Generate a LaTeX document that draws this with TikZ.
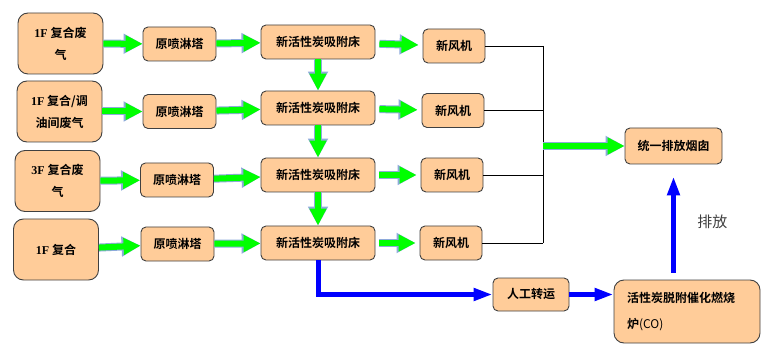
\documentclass[tikz,border=0pt]{standalone}
\usepackage{fontspec}
\newfontfamily\cjk[BoldFont={Noto Sans CJK SC Bold}]{Noto Sans CJK SC}
\newfontfamily\latn{Liberation Serif}
\usetikzlibrary{arrows.meta}
\definecolor{bpeach}{HTML}{FFCC99}
\definecolor{bedge}{HTML}{404040}
\definecolor{agreen}{HTML}{00FF00}
\definecolor{aedge}{HTML}{8EAADB}
\definecolor{ablue}{HTML}{0000FF}
\tikzset{
  box/.style={draw=bedge,fill=bpeach,rounded corners=5pt,line width=0.9pt,inner sep=0pt,
              align=center,font=\cjk\bfseries\fontsize{12}{22}\selectfont},
  srcbox/.style={box,rounded corners=10pt,minimum width=85pt,minimum height=61pt},
  sprbox/.style={box,minimum width=73pt,minimum height=34pt},
  bedbox/.style={box,minimum width=114pt,minimum height=34pt},
  fanbox/.style={box,minimum width=62pt,minimum height=34pt},
  garr/.style={line width=6pt,agreen,-{Triangle[length=17pt,width=16pt]},
               preaction={draw=aedge,line width=8pt,-{Triangle[length=19pt,width=19pt]}}},
  barr/.style={line width=5pt,ablue,-{Triangle[length=19pt,width=12pt]}},
}
\begin{document}
\begin{tikzpicture}[x=1pt,y=-1pt]
\useasboundingbox (0,0) rectangle (770,363);
% waste gas sources
\node[srcbox] (src1) at (60.5,43.5) {{\latn 1F} 复合废\\气};
\node[srcbox] (src2) at (59.5,111.5) {{\latn 1F} 复合/调\\油间废气};
\node[srcbox] (src3) at (57.5,181) {{\latn 3F} 复合废\\气};
\node[srcbox] (src4) at (56,249.5) {{\latn 1F} 复合};
% spray towers
\foreach \k/\x/\y in {1/179.5/44, 2/179.5/111.5, 3/177/180, 4/177.5/244}
  \node[sprbox] (spr\k) at (\x,\y) {原喷淋塔};
% adsorption beds
\foreach \k/\y in {1/42, 2/108, 3/175, 4/243}
  \node[bedbox] (bed\k) at (318,\y) {新活性炭吸附床};
% fans
\foreach \k/\x/\y in {1/454/46, 2/453/110.5, 3/452/175, 4/451/243}
  \node[fanbox] (fan\k) at (\x,\y) {新风机};
% chimney, transport, furnace
\node[box,minimum width=97pt,minimum height=36pt] (chim) at (673.5,146) {统一排放烟囱};
\node[box,minimum width=76pt,minimum height=33pt] (manual) at (531,294.5) {人工转运};
\node[box,rounded corners=10pt,minimum width=146pt,minimum height=63pt,align=left,text width=120pt,
      font=\cjk\bfseries\fontsize{12}{26}\selectfont] (furn) at (687,311.5) {活性炭脱附催化燃烧\\炉{\mdseries (CO)}};
% collector line
\coordinate (bus) at (543,0);
\foreach \k in {1,...,4}
  \draw[line width=0.8pt] (fan\k.east) -- (fan\k.east -| bus);
\draw[line width=0.8pt] (fan1.east -| bus) -- (fan4.east -| bus);
% flows
\foreach \k in {1,...,4}{
  \draw[garr] (src\k) -- (spr\k);
  \draw[garr] (spr\k) -- (bed\k);
  \draw[garr,shorten <=4pt,shorten >=4pt] (bed\k) -- (fan\k);
}
\foreach \a/\b in {1/2, 2/3, 3/4}
  \draw[garr] (bed\a) -- (bed\b);
\draw[garr] (bus |- chim.west) -- (chim.west);
\draw[barr] (bed4.south) |- (manual.west);
\draw[barr] (manual.east) -- (manual.east -| furn.west);
\draw[barr,shorten <=7pt,shorten >=12pt] (chim.south |- furn.north) -- (chim.south)
  node[midway,right=18pt,font=\cjk\fontsize{15}{15}\selectfont,text=black!75] {排放};
\end{tikzpicture}
\end{document}
